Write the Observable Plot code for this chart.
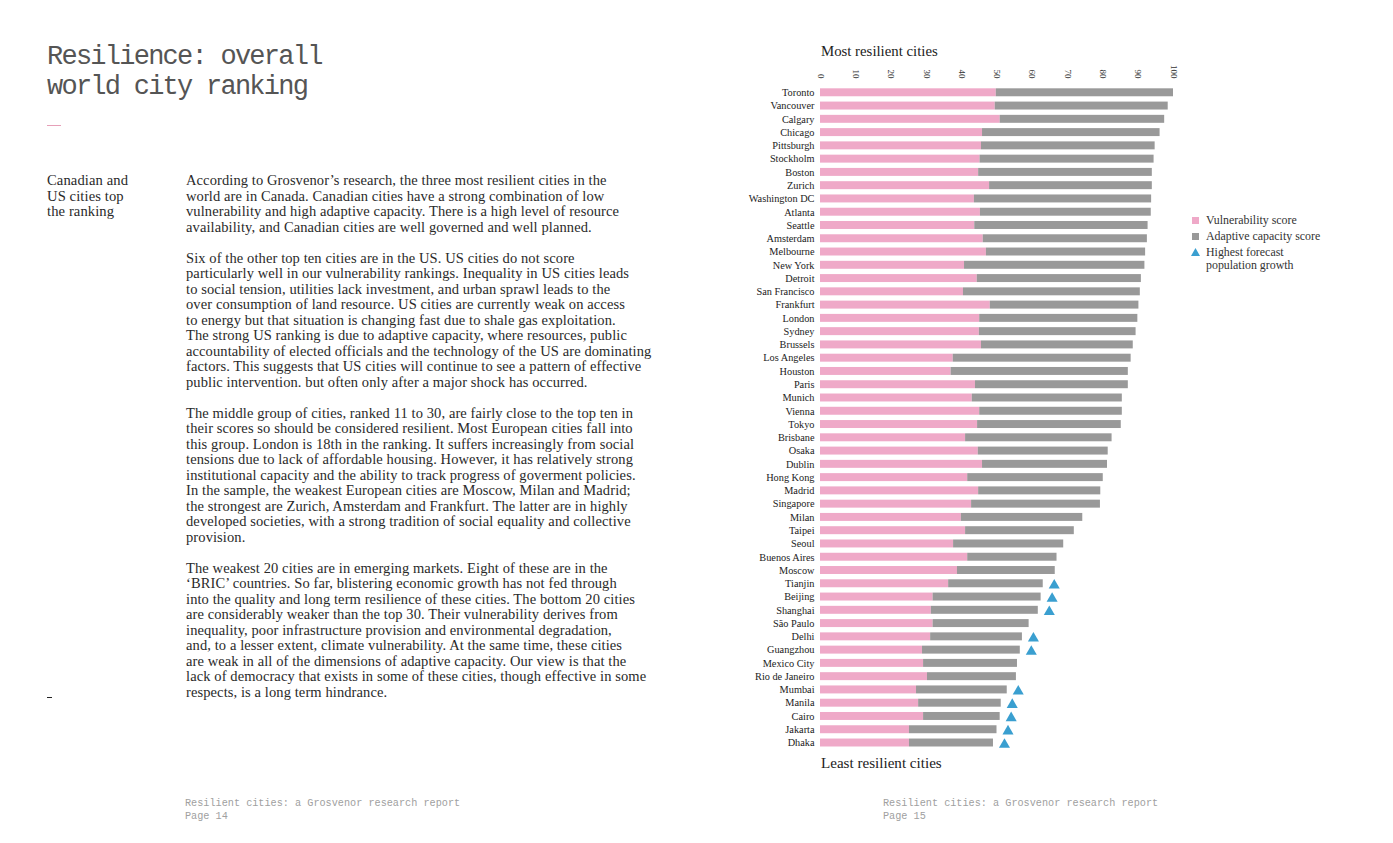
<!DOCTYPE html>
<html><head><meta charset="utf-8">
<script src="https://cdn.jsdelivr.net/npm/d3@7"></script>
<script src="https://cdn.jsdelivr.net/npm/@observablehq/plot@0.6"></script>
<style>
html,body{margin:0;padding:0;background:#fff}
body{width:1393px;height:843px;position:relative;overflow:hidden;font-family:"Liberation Serif",serif;color:#222}
.abs{position:absolute}
.title{left:47px;top:42px;font-family:"Liberation Mono",monospace;font-size:27px;letter-spacing:-1.75px;line-height:30px;color:#555;white-space:pre}
.side{left:47px;top:173px;font-size:14.6px;letter-spacing:0.1px;line-height:15.5px;white-space:pre;color:#2a2a2a}
.body{left:186px;top:173px;font-size:14.5px;letter-spacing:0.1px;line-height:15.5px;white-space:pre;color:#2a2a2a}
.body p{margin:0 0 15.5px 0}
.foot{font-family:"Liberation Mono",monospace;font-size:10.2px;line-height:13px;color:#a0a0a0;white-space:pre}
.ctitle{font-size:14.8px;color:#222;white-space:pre}
.legend{left:1192px;top:214px;font-size:11.9px;color:#333;line-height:12.5px}
.legend .row{position:relative;padding-left:14px;margin-bottom:3.5px}
.legend .sw{position:absolute;left:0;top:3px;width:7px;height:7px}
</style></head><body>
<div class="abs title">Resilience: overall
world city ranking</div>
<div class="abs" style="left:47px;top:125px;width:14px;height:1px;background:#e6a0b8"></div>
<div class="abs" style="left:47px;top:697px;width:5px;height:1px;background:#222"></div>
<div class="abs side">Canadian and
US cities top
the ranking</div>
<div class="abs body" id="body"></div>
<div class="abs foot" style="left:185px;top:797px">Resilient cities: a Grosvenor research report
Page 14</div>
<div class="abs foot" style="left:883px;top:797px">Resilient cities: a Grosvenor research report
Page 15</div>
<div class="abs ctitle" style="left:821px;top:43px">Most resilient cities</div>
<div class="abs ctitle" style="left:821px;top:755px;font-size:15.1px">Least resilient cities</div>
<div class="abs legend">
  <div class="row"><span class="sw" style="background:#efa9c8"></span>Vulnerability score</div>
  <div class="row"><span class="sw" style="background:#999999"></span>Adaptive capacity score</div>
  <div class="row"><svg class="sw" style="width:9px;height:8px;left:-1px;top:2px" viewBox="0 0 9 8"><polygon points="4.5,0 9,8 0,8" fill="#3a9fd0"/></svg>Highest forecast<br>population growth</div>
</div>
<div class="abs" id="chart" style="left:720px;top:37.8px"></div>
<script>
const cities = ["Toronto","Vancouver","Calgary","Chicago","Pittsburgh","Stockholm","Boston","Zurich","Washington DC","Atlanta",
"Seattle","Amsterdam","Melbourne","New York","Detroit","San Francisco","Frankfurt","London","Sydney","Brussels",
"Los Angeles","Houston","Paris","Munich","Vienna","Tokyo","Brisbane","Osaka","Dublin","Hong Kong",
"Madrid","Singapore","Milan","Taipei","Seoul","Buenos Aires","Moscow","Tianjin","Beijing","Shanghai",
"São Paulo","Delhi","Guangzhou","Mexico City","Rio de Janeiro","Mumbai","Manila","Cairo","Jakarta","Dhaka"];
const vulnerability = [49.8,49.5,50.9,45.9,45.6,45.2,44.8,47.9,43.6,45.3,
43.7,46.1,47.0,40.8,44.4,40.5,48.1,45.1,45.0,45.6,
37.6,37.0,43.9,43.0,45.1,44.5,41.1,44.7,45.9,41.7,
44.8,42.8,39.9,41.1,37.7,41.7,38.8,36.3,31.9,31.4,
31.9,31.2,28.9,29.2,30.3,27.2,27.8,29.2,25.2,25.2];
const adaptive = [50.2,49.0,46.6,50.3,49.2,49.3,49.2,46.1,50.2,48.4,
49.1,46.5,45.1,51.1,46.5,50.1,42.1,44.8,44.4,43.0,
50.4,50.2,43.3,42.5,40.4,40.7,41.5,36.8,35.4,38.4,
34.6,36.5,34.4,30.8,31.2,25.3,27.7,26.8,30.6,30.3,
27.2,26.0,27.7,26.6,25.2,25.7,23.4,21.7,24.8,23.8];
const highGrowth = ["Tianjin","Beijing","Shanghai","Delhi","Guangzhou","Mumbai","Manila","Cairo","Jakarta","Dhaka"];
const seriesNames = ["Vulnerability score","Adaptive capacity score"];
const seriesColors = ["#efa9c8","#999999"];
const xTicks = [0,10,20,30,40,50,60,70,80,90,100];

const paragraphs = [
["According to Grosvenor’s research, the three most resilient cities in the",
"world are in Canada. Canadian cities have a strong combination of low",
"vulnerability and high adaptive capacity. There is a high level of resource",
"availability, and Canadian cities are well governed and well planned."],
["Six of the other top ten cities are in the US. US cities do not score",
"particularly well in our vulnerability rankings. Inequality in US cities leads",
"to social tension, utilities lack investment, and urban sprawl leads to the",
"over consumption of land resource. US cities are currently weak on access",
"to energy but that situation is changing fast due to shale gas exploitation.",
"The strong US ranking is due to adaptive capacity, where resources, public",
"accountability of elected officials and the technology of the US are dominating",
"factors. This suggests that US cities will continue to see a pattern of effective",
"public intervention. but often only after a major shock has occurred."],
["The middle group of cities, ranked 11 to 30, are fairly close to the top ten in",
"their scores so should be considered resilient. Most European cities fall into",
"this group. London is 18th in the ranking. It suffers increasingly from social",
"tensions due to lack of affordable housing. However, it has relatively strong",
"institutional capacity and the ability to track progress of goverment policies.",
"In the sample, the weakest European cities are Moscow, Milan and Madrid;",
"the strongest are Zurich, Amsterdam and Frankfurt. The latter are in highly",
"developed societies, with a strong tradition of social equality and collective",
"provision."],
["The weakest 20 cities are in emerging markets. Eight of these are in the",
"‘BRIC’ countries. So far, blistering economic growth has not fed through",
"into the quality and long term resilience of these cities. The bottom 20 cities",
"are considerably weaker than the top 30. Their vulnerability derives from",
"inequality, poor infrastructure provision and environmental degradation,",
"and, to a lesser extent, climate vulnerability. At the same time, these cities",
"are weak in all of the dimensions of adaptive capacity. Our view is that the",
"lack of democracy that exists in some of these cities, though effective in some",
"respects, is a long term hindrance."]];
const bodyEl = document.getElementById("body");
for (const p of paragraphs) {
  const el = document.createElement("p");
  el.textContent = p.join("\n");
  bodyEl.appendChild(el);
}

const rows = [];
cities.forEach((c, i) => {
  rows.push({city: c, series: seriesNames[0], value: vulnerability[i]});
  rows.push({city: c, series: seriesNames[1], value: adaptive[i]});
});
const growthRows = cities.map((c, i) => ({city: c, total: vulnerability[i] + adaptive[i]}))
  .filter(d => highGrowth.includes(d.city));

const chart = Plot.plot({
  width: 483,
  height: 724,
  marginLeft: 100,
  marginRight: 30,
  marginTop: 45,
  marginBottom: 10.2,
  style: {fontFamily: "Liberation Serif, serif", color: "#222", background: "transparent"},
  x: {domain: [0, 100], axis: null},
  y: {domain: cities, padding: 0.4, round: false, axis: null},
  color: {domain: seriesNames, range: seriesColors},
  marks: [
    Plot.barX(rows, Plot.stackX({x: "value", y: "city", fill: "series", order: null})),
    Plot.dot(growthRows, {x: "total", y: "city", symbol: "triangle", r: 4.1, fill: "#3a9fd0", dx: 11, dy: 1.5}),
    Plot.axisX(xTicks, {anchor: "top", tickSize: 0, tickPadding: 5, tickRotate: 90, fontSize: 9, fill: "#333", label: null}),
    Plot.axisY({anchor: "left", tickSize: 0, tickPadding: 6, fontSize: 10.3, fill: "#222", label: null})
  ]
});
document.getElementById("chart").appendChild(chart);
</script>
</body></html>
